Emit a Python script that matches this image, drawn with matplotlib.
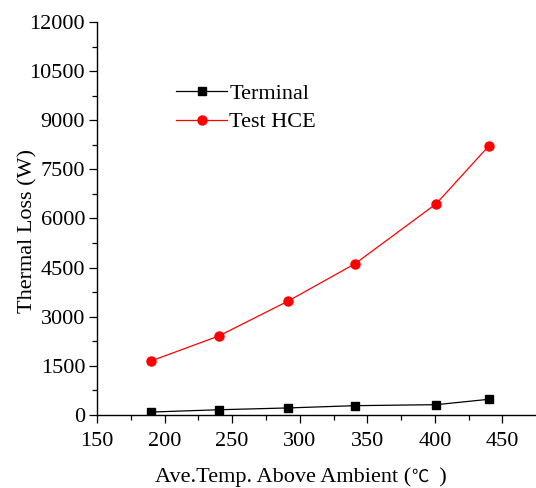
import matplotlib
matplotlib.use("Agg")
import matplotlib.pyplot as plt
from matplotlib.ticker import MultipleLocator
from matplotlib.offsetbox import TextArea, HPacker, AnchoredOffsetbox

plt.rcParams['font.family'] = ['Liberation Serif', 'DejaVu Sans']

# Average temperature above ambient (°C)
temperature = [190, 240, 291, 341, 401, 440]
# Thermal loss (W)
terminal_loss = [90, 160, 215, 285, 315, 480]
test_hce_loss = [1650, 2410, 3470, 4620, 6450, 8220]

fig = plt.figure(figsize=(5.36, 4.88), dpi=100)
ax = fig.add_axes([0.181, 0.1496, 0.817, 0.8054])

ax.plot(temperature, terminal_loss, color='black', lw=0.9, marker='s',
        ms=5.5, label='Terminal')
ax.plot(temperature, test_hce_loss, color='red', lw=0.9, marker='o',
        ms=6.5, label='Test HCE')

ax.set_xlim(150, 474)
ax.set_ylim(0, 12000)
ax.xaxis.set_major_locator(MultipleLocator(50))
ax.xaxis.set_minor_locator(MultipleLocator(25))
ax.yaxis.set_major_locator(MultipleLocator(1500))
ax.yaxis.set_minor_locator(MultipleLocator(750))

for side in ('top', 'right'):
    ax.spines[side].set_visible(False)
for side in ('left', 'bottom'):
    ax.spines[side].set_linewidth(1.0)

ax.tick_params(which='major', direction='out', length=6, width=0.9,
               labelsize=16)
ax.tick_params(axis='y', which='major', pad=2.5)
ax.tick_params(axis='x', which='major', pad=6)
ax.tick_params(which='minor', direction='out', length=3.5, width=0.9)

# x label assembled from pieces so the degree sign can use a lighter glyph
label_parts = [
    TextArea('Ave.Temp. Above Ambient (', textprops=dict(size=16)),
    TextArea('℃', textprops=dict(size=12.5, family=['Noto Sans CJK SC', 'DejaVu Sans'])),
    TextArea('  )', textprops=dict(size=16)),
]
xlabel_box = HPacker(children=label_parts, align='baseline', pad=0, sep=0)
anchored = AnchoredOffsetbox(loc='upper center', child=xlabel_box, pad=0,
                             borderpad=0, frameon=False,
                             bbox_to_anchor=(0.466, -0.133),
                             bbox_transform=ax.transAxes)
ax.add_artist(anchored)

ax.set_ylabel('Thermal Loss (W)', fontsize=16)
ax.yaxis.set_label_coords(-0.135, 0.468)

ax.legend(loc='upper left', bbox_to_anchor=(0.16, 0.866), frameon=False,
          fontsize=16, handlelength=2.3, handletextpad=0.1,
          labelspacing=0.35, borderaxespad=0)

fig.savefig('out.png', dpi=100)
